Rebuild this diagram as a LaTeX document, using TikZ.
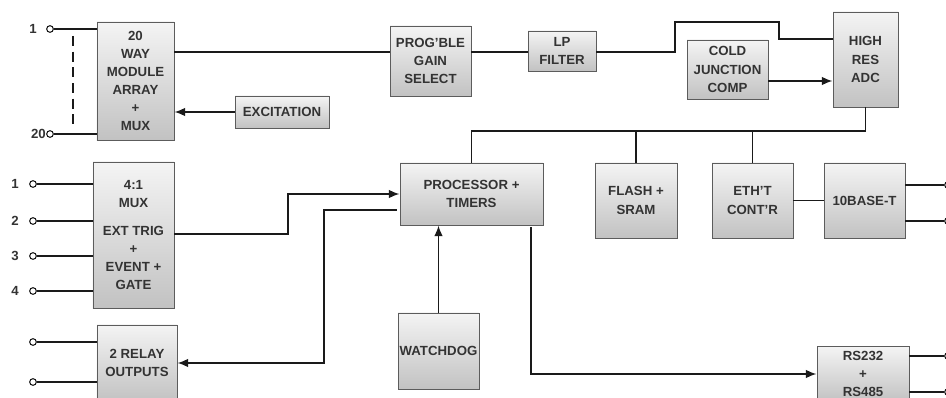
\documentclass[tikz,border=0pt]{standalone}
\usepackage{fontspec}
\setmainfont{Liberation Sans}
\usetikzlibrary{arrows.meta,positioning,calc}
\definecolor{BoxTop}{HTML}{F4F4F4}
\definecolor{BoxBot}{HTML}{C2C2C2}
\definecolor{BoxLine}{HTML}{5C5C5C}
\definecolor{TextGrey}{HTML}{333333}
\definecolor{WireBlack}{HTML}{1A1A1A}

\begin{document}
\begin{tikzpicture}[x=0.03cm, y=-0.03cm, >={Latex[length=3.2mm,width=2.6mm]},
  blk/.style={draw=BoxLine, line width=0.8pt, top color=BoxTop, bottom color=BoxBot,
    text=TextGrey, font=\fontsize{11.3}{15.5}\selectfont\bfseries, align=center, inner sep=1pt},
  term/.style={circle, draw=WireBlack, fill=white, line width=0.9pt, minimum size=0.2cm, inner sep=0pt},
  num/.style={text=TextGrey, font=\fontsize{11.3}{12}\selectfont\bfseries, anchor=east, inner sep=0pt},
  wire/.style={draw=WireBlack, line width=1.5pt}]
  \useasboundingbox (0,0) rectangle (946,398);
  \clip (0,0) rectangle (946,398);

  % blocks
  \node[blk, minimum width=2.31cm, minimum height=3.54cm] (mux20) at (135.5,81) {20\\WAY\\MODULE\\ARRAY\\+\\MUX};
  \node[blk, minimum width=2.82cm, minimum height=0.96cm] (excit) at (282,112) {EXCITATION};
  \node[blk, minimum width=2.43cm, minimum height=2.10cm] (pga) at (430.5,61) {PROG'BLE\\GAIN\\SELECT};
  \node[blk, minimum width=2.04cm, minimum height=1.20cm] (lpf) at (562,51) {LP\\FILTER};
  \node[blk, minimum width=2.43cm, minimum height=1.77cm] (cjc) at (727.5,69.5) {COLD\\JUNCTION\\COMP};
  \node[blk, minimum width=1.95cm, minimum height=2.85cm] (adc) at (865.5,59.5) {HIGH\\RES\\ADC};
  \node[blk, minimum width=4.29cm, minimum height=1.86cm] (proc) at (471.5,194) {PROCESSOR +\\TIMERS};
  \node[blk, minimum width=2.46cm, minimum height=2.25cm] (flash) at (636,200.5) {FLASH +\\SRAM};
  \node[blk, minimum width=2.43cm, minimum height=2.25cm] (eth) at (752.5,200.5) {ETH'T\\CONT'R};
  \node[blk, minimum width=2.43cm, minimum height=2.25cm] (base) at (864.5,200.5) {10BASE-T};
  \node[blk, minimum width=2.43cm, minimum height=4.38cm] (mux4) at (133.5,235) {4:1\\MUX\\[8pt]EXT TRIG\\+\\EVENT +\\GATE};
  \node[blk, minimum width=2.40cm, minimum height=2.28cm] (relay) at (137,363) {2 RELAY\\OUTPUTS};
  \node[blk, minimum width=2.43cm, minimum height=2.28cm, inner sep=0pt] (dog) at (438.5,351) {WATCHDOG};
  \node[blk, minimum width=2.76cm, minimum height=1.68cm] (rs) at (863,374) {RS232\\+\\RS485};

  % terminals
  \node[term] (a1) at (50,29) {};
  \node[term] (a20) at (50,134) {};
  \node[num] (la1) at (37,29) {1};
  \node[num] (la20) at (46,134) {20};
  \foreach \i/\y in {1/184, 2/221, 3/256, 4/291} {
    \node[term] (b\i) at (33,\y) {};
    \node[num] (lb\i) at (19,\y) {\i};
  }
  \node[term] (r1) at (33,342) {};
  \node[term] (r2) at (33,382) {};
  \node[term] (e1) at (948,185) {};
  \node[term] (e2) at (948,221) {};
  \node[term] (s1) at (948,356) {};
  \node[term] (s2) at (948,392) {};
  \coordinate (dtop) at (73,36);
  \coordinate (dbot) at (73,128);

  % connections
  \draw[wire] (a1) -- (a1 -| mux20.west);
  \draw[wire] (a20) -- (a20 -| mux20.west);
  \draw[wire, dash pattern=on 0.3cm off 0.17cm] (dtop) -- (dbot);
  \draw[wire, ->] (excit) -- (excit -| mux20.east);
  \draw[wire] (mux20.east |- 0,52) -- (pga.west |- 0,52);
  \draw[wire] (pga.east |- 0,52) -- (lpf.west |- 0,52);
  \draw[wire] (lpf.east |- 0,52) -- (675,52) -- (675,22) -- (779,22) -- (779,39) -- (adc.west |- 0,39);
  \draw[wire, ->] (cjc.east |- 0,81) -- (adc.west |- 0,81);
  \draw[wire] (adc.south) -- (adc.south |- 0,131) -- (proc.north |- 0,131) -- (proc.north);
  \draw[wire] (flash.north) -- (flash.north |- 0,131);
  \draw[wire] (eth.north) -- (eth.north |- 0,131);
  \draw[wire] (eth) -- (base);
  \draw[wire] (e1) -- (e1 -| base.east);
  \draw[wire] (e2) -- (e2 -| base.east);
  \foreach \i in {1,...,4}
    \draw[wire] (b\i) -- (b\i -| mux4.west);
  \draw[wire, ->] (mux4.east |- 0,234) -- (288,234) -- (288,194) -- (proc.west);
  \draw[wire, ->] ([xshift=-0.09cm]proc.west |- 0,210) -- (324,210) -- (324,363) -- (relay.east);
  \draw[wire] (r1) -- (r1 -| relay.west);
  \draw[wire] (r2) -- (r2 -| relay.west);
  \draw[wire, ->] (dog.north) -- (dog.north |- proc.south);
  \draw[wire, ->] ([yshift=-0.06cm]proc.south -| 531,0) -- (531,374) -- (rs.west);
  \draw[wire] (s1) -- (s1 -| rs.east);
  \draw[wire] (s2) -- (s2 -| rs.east);
\end{tikzpicture}
\end{document}
